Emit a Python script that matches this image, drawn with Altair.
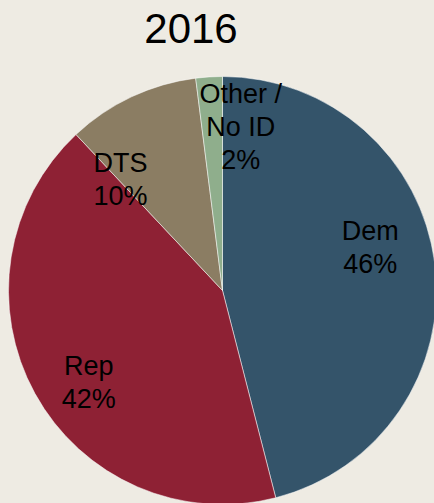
import altair as alt
import pandas as pd

# ---- data ----
categories = ["Dem", "Rep", "DTS", "Other / No ID"]
shares = [46, 42, 10, 2]
label_lines = ["Dem\n46%", "Rep\n42%", "DTS\n10%", "Other /\nNo ID\n2%"]
colors = ["#34546A", "#8E2134", "#8B7D63", "#8FAE8C"]
title_text = ["2016"]

df = pd.DataFrame({
    "category": categories,
    "share": shares,
    "label": label_lines,
    "order": list(range(len(categories))),
})
title_df = pd.DataFrame({"title": title_text})
total = sum(shares)

# ---- layout / style ----
W, H = 434, 503
CX, CY, R = 222.5, 290.5, 214
BG = "#EEEBE3"
FONT = "Liberation Sans"
LABEL_R = 155
# per-label nudges (label placement tweaks, pixels)
NUDGES = {"Dem": (-6, -39), "Rep": (2, 2), "DTS": (-36, 14), "Other / No ID": (28, -41)}

pie = alt.Chart(df).mark_arc(radius=R, stroke="#ffffff", strokeWidth=0.5).encode(
    theta=alt.Theta("share:Q", stack=True),
    order=alt.Order("order:Q"),
    color=alt.Color("category:N", scale=alt.Scale(domain=categories, range=colors), legend=None),
    x=alt.value(CX),
    y=alt.value(CY),
)

labels_base = alt.Chart(df).transform_window(
    cum="sum(share)", sort=[alt.SortField("order")], frame=[None, 0]
).transform_calculate(mid="datum.cum - datum.share / 2")

layers = [pie]
for cat in categories:
    ndx, ndy = NUDGES[cat]
    layers.append(
        labels_base.transform_filter(alt.datum.category == cat).mark_text(
            radius=LABEL_R, dx=ndx, dy=ndy, fontSize=27, lineHeight=33,
            lineBreak="\n", font=FONT, color="#000000", align="center", baseline="middle",
        ).encode(
            theta=alt.Theta("mid:Q", scale=alt.Scale(domain=[0, total])),
            text="label:N",
            x=alt.value(CX),
            y=alt.value(CY),
        )
    )

title = alt.Chart(title_df).mark_text(
    font=FONT, fontSize=42, color="#000000", align="center", baseline="alphabetic"
).encode(text="title:N", x=alt.value(191), y=alt.value(43))
layers.append(title)

chart = alt.layer(*layers).properties(
    width=W, height=H, background=BG, padding=0,
    autosize=alt.AutoSizeParams(type="none"),
).configure_view(stroke=None)

chart.save("out.html", embed_options={"renderer": "svg", "actions": False})
